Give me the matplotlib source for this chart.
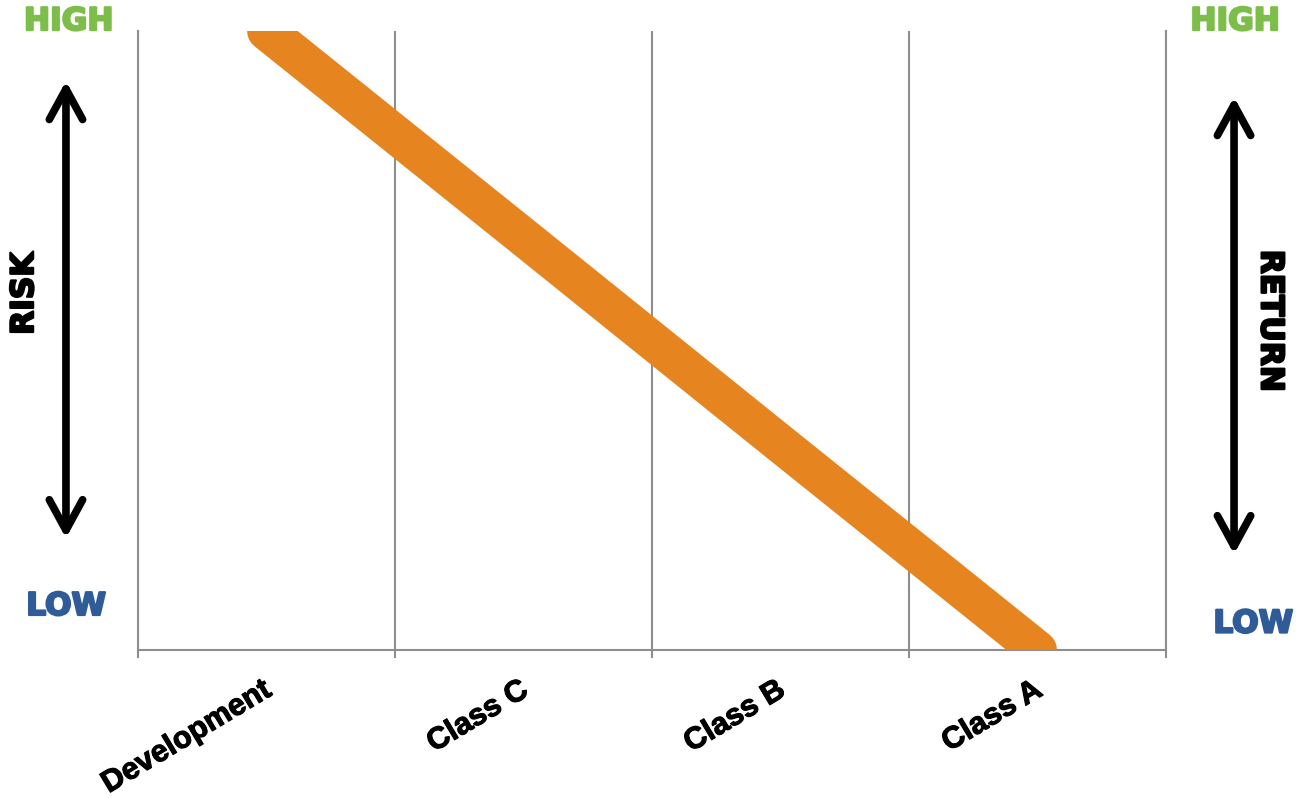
import matplotlib.pyplot as plt
import matplotlib.patheffects as pe
import matplotlib.transforms as mtransforms
from matplotlib.patches import FancyArrowPatch

categories = ['Development', 'Class C', 'Class B', 'Class A']
risk_level = [10, 6.67, 3.33, 0]

side_high = 'HIGH'
side_low = 'LOW'
left_title = 'RISK'
right_title = 'RETURN'

orange = '#E6851F'
green = '#7DBE4B'
blue = '#2F5C99'
grid_grey = '#8E8E8E'

heavy = ['DejaVu Sans']

fig = plt.figure(figsize=(12.96, 7.98), dpi=100)
ax = fig.add_axes([0.1065, 0.1855, 0.7932, 0.7757])

x = list(range(len(categories)))
ax.plot(x, risk_level, color=orange, lw=28, solid_capstyle='round', zorder=3)

ax.set_xlim(-0.5, len(categories) - 0.5)
ax.set_ylim(0, 10)
ax.set_yticks([])

# category boundaries carry the grid and the small ticks
bounds = [i - 0.5 for i in range(len(categories) + 1)]
ax.set_xticks(bounds, minor=True)
ax.set_xticks(x)
ax.set_xticklabels(categories, rotation=31, ha='right', rotation_mode='anchor',
                   fontsize=22, fontweight='bold', family=['Liberation Sans', 'DejaVu Sans'])
ax.tick_params(axis='x', which='major', length=0, pad=18)
ax.tick_params(axis='x', which='minor', length=6, width=1.5, color=grid_grey)
ax.grid(axis='x', which='minor', color=grid_grey, lw=1.5, zorder=1)
shift = mtransforms.ScaledTranslation(-4 / 72, 0, fig.dpi_scale_trans)
for lab in ax.get_xticklabels():
    lab.set_transform(lab.get_transform() + shift)
    lab.set_path_effects([pe.withStroke(linewidth=0.8, foreground='black')])

ax.spines['top'].set_visible(False)
for side in ['left', 'right', 'bottom']:
    ax.spines[side].set_color(grid_grey)
    ax.spines[side].set_linewidth(1.5)


def side_text(xf, yf, s, color, rot=0):
    t = fig.text(xf, yf, s, color=color, fontsize=22.5, fontweight='bold',
                 family=heavy, rotation=rot, ha='center', va='center')
    # thicken the strokes a little
    t.set_path_effects([pe.withStroke(linewidth=1.6, foreground=color)])
    return t


side_text(0.053, 0.973, side_high, green)
side_text(0.051, 0.240, side_low, blue)
side_text(0.953, 0.973, side_high, green)
side_text(0.967, 0.218, side_low, blue)
side_text(0.019, 0.632, left_title, 'black', rot=90)
side_text(0.980, 0.598, right_title, 'black', rot=270)

# double-headed arrows beside the plot
for xa, y_top, y_bot in [(0.0509, 0.902, 0.322), (0.9522, 0.882, 0.302)]:
    arr = FancyArrowPatch((xa, y_bot), (xa, y_top), transform=fig.transFigure,
                          arrowstyle='<->,head_length=1.1,head_width=0.6',
                          mutation_scale=20, lw=5.5, color='black',
                          capstyle='round', joinstyle='round')
    fig.patches.append(arr)

fig.savefig('out.png', dpi=100)
